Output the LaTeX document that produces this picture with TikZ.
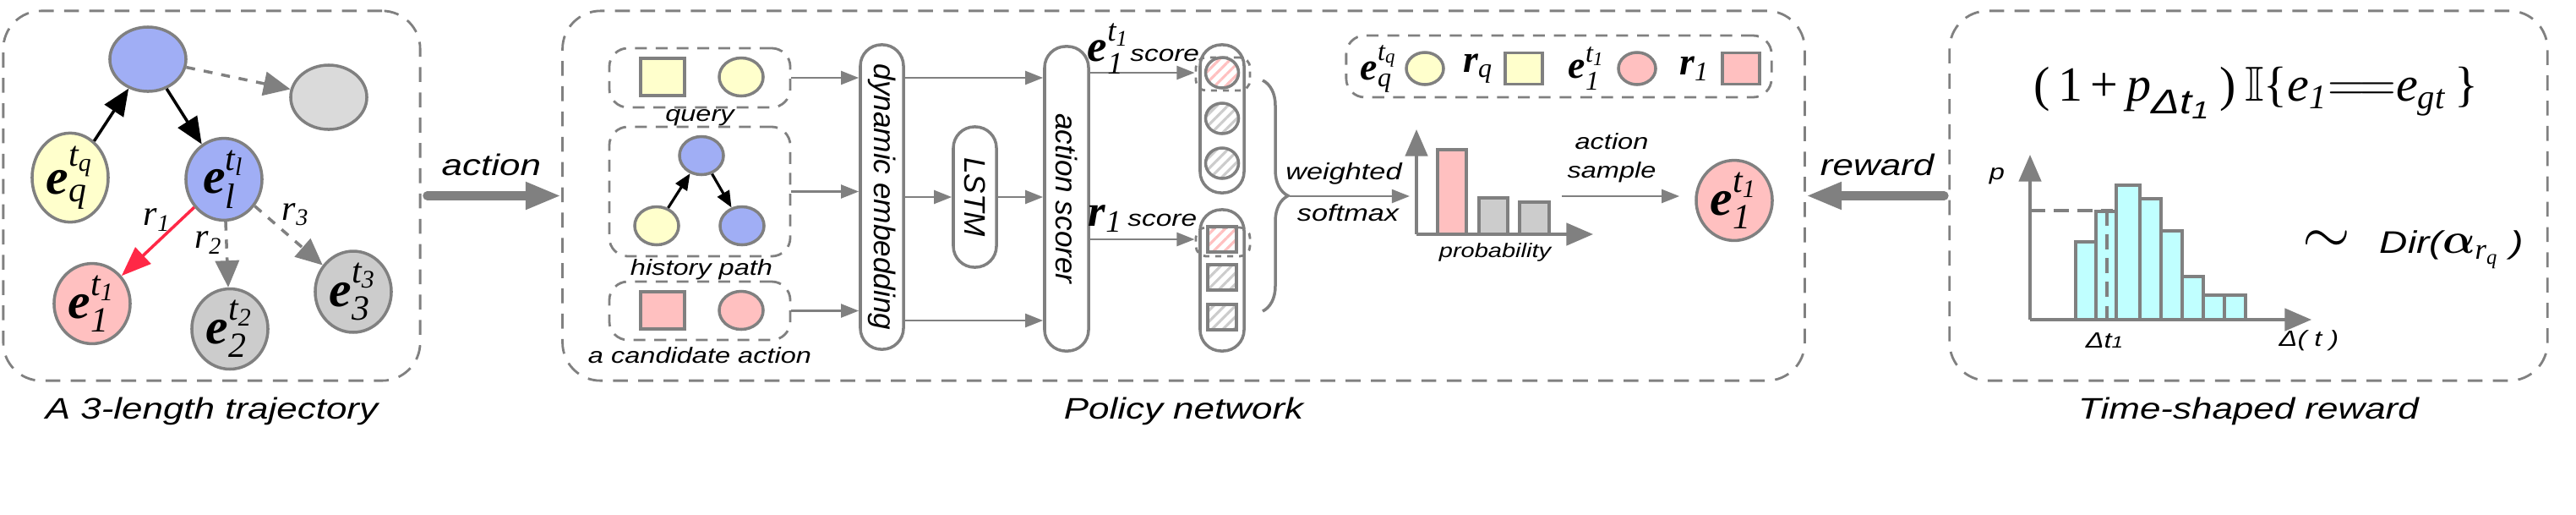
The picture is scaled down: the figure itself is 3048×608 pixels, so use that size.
\documentclass[tikz,border=0pt]{standalone}
\usepackage{amsmath,amssymb}
\usepackage{graphicx}
\usepackage{fontspec}
\setmainfont{Liberation Sans}[FakeStretch=1.25]
\newfontfamily\rotfont{Liberation Sans}
\newfontfamily\tms{Liberation Serif}
\usetikzlibrary{positioning,shapes.geometric,arrows.meta,patterns.meta,decorations.pathreplacing}

\definecolor{lgray}{RGB}{128,128,128}
\definecolor{nblue}{RGB}{160,174,245}
\definecolor{nyellow}{RGB}{255,255,204}
\definecolor{npink}{RGB}{255,192,192}
\definecolor{ngray}{RGB}{204,204,204}
\definecolor{nlgray}{RGB}{218,218,218}
\definecolor{nred}{RGB}{255,40,70}
\definecolor{ncyan}{RGB}{192,255,255}

\newcommand{\tv}[1]{\text{\tms\itshape #1}}
\newcommand{\tb}[1]{\text{\tms\bfseries\itshape #1}}
\newcommand{\ent}[2]{$\tb{e}_{\tv{#1}}^{\tv{t}_{\tv{#2}}}$}
\newcommand{\rel}[1]{$\tb{r}_{\tv{#1}}$}

\begin{document}
\begin{tikzpicture}[x=0.01cm, y=-0.01cm,
    panel/.style={draw=lgray, line width=0.8pt, dash pattern=on 5pt off 3.5pt, rounded corners=0.45cm, inner sep=0pt},
    grupo/.style={draw=lgray, line width=0.8pt, dash pattern=on 4pt off 3pt, rounded corners=0.22cm, inner sep=0pt},
    marca/.style={draw=lgray, line width=0.8pt, dash pattern=on 2pt off 2pt, rounded corners=0.12cm, minimum width=0.64cm, inner sep=0pt},
    ent/.style={ellipse, draw=lgray, line width=1pt, minimum width=0.9cm, minimum height=0.76cm, inner sep=0pt, font=\fontsize{17}{19}\selectfont},
    chico/.style={ellipse, draw=lgray, line width=1pt, minimum width=0.52cm, minimum height=0.45cm, inner sep=0pt},
    cuad/.style={rectangle, draw=lgray, line width=1pt, minimum width=0.52cm, minimum height=0.44cm, inner sep=0pt},
    modulo/.style={draw=lgray, line width=1pt, rounded corners=0.25cm, minimum width=0.51cm, inner sep=0pt, font=\rotfont\itshape\fontsize{10}{12}\selectfont},
    rayado/.style={draw=lgray, line width=1pt, inner sep=0pt, pattern={Lines[angle=45,distance=2.6pt,line width=0.9pt]}},
    flecha/.style={-{Triangle[length=6pt,width=4.5pt]}, line width=0.8pt, lgray},
    negra/.style={-{Triangle[length=9pt,width=7.5pt]}, line width=1pt, black},
    negrita/.style={-{Triangle[length=5.5pt,width=4.5pt]}, line width=0.9pt, black},
    punteada/.style={-{Triangle[length=9pt,width=8pt]}, line width=1pt, lgray, dash pattern=on 3pt off 3pt},
    gruesa/.style={-{Triangle[length=12pt,width=8.5pt]}, line width=3pt, lgray, line cap=round},
    eje/.style={-{Triangle[length=9pt,width=7.5pt]}, line width=1pt, lgray},
    barra/.style={draw=lgray, line width=1pt},
    titulo/.style={font=\itshape\fontsize{10}{12}\selectfont, inner sep=0pt, text=black},
    etiq/.style={font=\itshape\fontsize{7.4}{9.7}\selectfont, inner sep=0pt}]
    \useasboundingbox (0,0) rectangle (3048,608);

    % panels
    \node[panel, minimum width=4.93cm, minimum height=4.37cm] (pan1) at (250.5,231.5) {};
    \node[panel, minimum width=14.69cm, minimum height=4.37cm] (pan2) at (1400.5,231.5) {};
    \node[panel, minimum width=7.07cm, minimum height=4.37cm] (pan3) at (2660.5,231.5) {};
    \node[titulo, below=0.18cm of pan1] (cap1) {A 3-length trajectory};
    \node[titulo, below=0.18cm of pan2] (cap2) {Policy network};
    \node[titulo, below=0.18cm of pan3] (cap3) {Time-shaped reward};

    % trajectory
    \node[ent, fill=nblue] (top) at (175,70) {};
    \node[ent, fill=nlgray] (far) at (389,115) {};
    \node[ent, fill=nyellow] (eq) at (83,210) {\ent{q}{q}};
    \node[ent, fill=nblue] (el) at (265,212) {\ent{l}{l}};
    \node[ent, fill=npink] (e1) at (109,359) {\ent{1}{1}};
    \node[ent, fill=ngray] (e2) at (272,389) {\ent{2}{2}};
    \node[ent, fill=ngray] (e3) at (418,345) {\ent{3}{3}};
    \draw[negra] (eq) -- (top);
    \draw[negra] (top) -- (el);
    \draw[punteada] (top) -- (far);
    \draw[-{Triangle[length=10pt,width=7.5pt]}, line width=1pt, nred] (el) -- (e1);
    \draw[punteada] (el) -- (e2);
    \draw[punteada] (el) -- (e3);
    \node[font=\fontsize{12}{14}\selectfont] (lr1) at (186,260) {$\tv{r}_{\tv{1}}$};
    \node[font=\fontsize{12}{14}\selectfont] (lr2) at (247,287) {$\tv{r}_{\tv{2}}$};
    \node[font=\fontsize{12}{14}\selectfont] (lr3) at (350,254) {$\tv{r}_{\tv{3}}$};

    \draw[gruesa, shorten <=0.07cm] (pan1.east) -- node[titulo, above=0.18cm] (alab) {action} (pan2.west);
    \draw[gruesa, shorten <=0.05cm] (pan3.west) -- node[titulo, above=0.18cm] (rlab) {reward} (pan2.east);

    % inputs
    \node[grupo, minimum width=2.14cm, minimum height=0.70cm] (qbox) at (828,92) {};
    \node[cuad, fill=nyellow] (qrel) at (784,91) {};
    \node[chico, fill=nyellow] (qent) at (877,91) {};
    \node[etiq, anchor=north] (qlab) at (828,129) {query};
    \node[grupo, minimum width=2.14cm, minimum height=1.53cm] (hbox) at (828,226.5) {};
    \node[chico, fill=nblue] (htop) at (830,184) {};
    \node[chico, fill=nyellow] (hq) at (777,267) {};
    \node[chico, fill=nblue] (hl) at (878,267) {};
    \draw[negrita] (hq) -- (htop);
    \draw[negrita] (htop) -- (hl);
    \node[etiq, anchor=north] (hlab) at (830,306) {history path};
    \node[grupo, minimum width=2.14cm, minimum height=0.69cm] (cbox) at (828,367.5) {};
    \node[cuad, fill=npink] (crel) at (784,367) {};
    \node[chico, fill=npink] (cent) at (877,367) {};
    \node[etiq, anchor=north] (clab) at (828,410) {a candidate action};

    % modules
    \node[modulo, minimum height=3.6cm] (dyn) at (1043.5,233) {\rotatebox{-90}{dynamic embedding}};
    \node[modulo, minimum height=1.66cm] (lstm) at (1153.5,233) {\rotatebox{-90}{LSTM}};
    \node[modulo, minimum height=3.6cm, minimum width=0.52cm] (scorer) at (1262,235) {\rotatebox{-90}{action scorer}};
    \draw[flecha] (qbox.east) -- (qbox.east -| dyn.west);
    \draw[flecha] (hbox.east) -- (hbox.east -| dyn.west);
    \draw[flecha] (cbox.east) -- (cbox.east -| dyn.west);
    \draw[flecha] (dyn.east |- qbox.east) -- (scorer.west |- qbox.east);
    \draw[flecha] (dyn.east |- lstm.west) -- (lstm.west);
    \draw[flecha] (lstm.east) -- (lstm.east -| scorer.west);
    \draw[flecha] (dyn.east |- 0,379) -- (scorer.west |- 0,379);

    % scores
    \node[modulo, minimum height=1.75cm, minimum width=0.52cm] (col1) at (1446,140.5) {};
    \foreach \n/\y/\c in {1/86/npink, 2/140/ngray, 3/193/ngray}
        \node[rayado, ellipse, minimum width=0.39cm, minimum height=0.36cm, pattern color=\c] (c1\n) at (1446,\y) {};
    \node[marca, minimum height=0.39cm] (hl1) at (1447,87.5) {};
    \node[modulo, minimum height=1.67cm, minimum width=0.52cm] (col2) at (1446,331.5) {};
    \foreach \n/\y/\c in {1/283/npink, 2/328/ngray, 3/375/ngray}
        \node[rayado, minimum width=0.34cm, minimum height=0.30cm, pattern color=\c] (c2\n) at (1446,\y) {};
    \node[marca, minimum height=0.34cm] (hl2) at (1447,286) {};
    \draw[flecha] (scorer.east |- c11) -- (hl1.west |- c11);
    \draw[flecha] (scorer.east |- c21) -- (hl2.west |- c21);
    \node[anchor=base, inner sep=0pt] (sc1) at (1353,72) {{\fontsize{15}{17}\selectfont\ent{1}{1}}{\itshape\fontsize{7.6}{9}\selectfont score}};
    \node[anchor=base, inner sep=0pt] (sc2) at (1352,267) {{\fontsize{15}{17}\selectfont\rel{1}}\,{\itshape\fontsize{7.6}{9}\selectfont score}};

    % weighted softmax
    \coordinate (brtop) at (1494,95);
    \coordinate (brbot) at (1494,368);
    \coordinate (brtip) at (1526,232);
    \coordinate (sfend) at (1668,232);
    \draw[lgray, line width=1pt, decorate, decoration={brace, amplitude=0.3cm}] (brtop) -- (brbot);
    \draw[flecha] (brtip) -- (sfend);
    \node[etiq, font=\itshape\fontsize{7.8}{9}\selectfont] (wlab) at (1590,205) {weighted};
    \node[etiq, font=\itshape\fontsize{7.8}{9}\selectfont] (slab) at (1595,252) {softmax};

    % probability
    \coordinate (o1) at (1676,277);
    \draw[barra, fill=npink] (1701,277) rectangle (1735,177);
    \draw[barra, fill=ngray] (1750,277) rectangle (1784,234);
    \draw[barra, fill=ngray] (1798,277) rectangle (1833,239);
    \draw[eje] (o1) -- (1676,153);
    \draw[eje] (o1) -- (1885,277);
    \node[etiq, font=\itshape\fontsize{6.6}{8}\selectfont] (plab) at (1769,298) {probability};
    \node[etiq, align=center] (aslab) at (1907,187) {action\\sample};
    \node[ent, fill=npink] (res) at (2052,237) {\ent{1}{1}};
    \coordinate (smp) at (1848,232);
    \draw[flecha, shorten >=0.18cm] (smp) -- (smp -| res.west);

    % legend
    \node[grupo, minimum width=5.03cm, minimum height=0.73cm] (leg) at (1844.5,78.5) {};
    \node[font=\fontsize{13}{15}\selectfont, inner sep=0pt] (lt1) at (1632,81) {\ent{q}{q}};
    \node[chico, fill=nyellow, minimum width=0.44cm, minimum height=0.38cm] (lc1) at (1686,81) {};
    \node[font=\fontsize{13}{15}\selectfont, inner sep=0pt] (lt2) at (1749,81) {\rel{q}};
    \node[cuad, fill=nyellow, minimum width=0.44cm, minimum height=0.37cm] (lc2) at (1803,81) {};
    \node[font=\fontsize{13}{15}\selectfont, inner sep=0pt] (lt3) at (1878,81) {\ent{1}{1}};
    \node[chico, fill=npink, minimum width=0.44cm, minimum height=0.38cm] (lc3) at (1937,81) {};
    \node[font=\fontsize{13}{15}\selectfont, inner sep=0pt] (lt4) at (2005,81) {\rel{1}};
    \node[cuad, fill=npink, minimum width=0.44cm, minimum height=0.37cm] (lc4) at (2060,81) {};

    % time-shaped reward
    \node[font=\fontsize{16.5}{18}\selectfont, inner sep=0pt] (form) at (2669,110)
        {$\text{\tms(\,1\,+\,}\tv{p}_{\text{\itshape Δt}_{\text{\itshape 1}}}\text{\tms\,)}\,\mathbb{I}\text{\tms\{}\tv{e}_{\tv{1}}{=}\mkern-2mu{=}\tv{e}_{\tv{gt}}\text{\tms\,\}}$};
    \node[etiq] (plab2) at (2363,208) {p};
    \coordinate (o2) at (2402,378);
    \foreach \xa/\xb/\yt in {2456/2480/286, 2480/2504/250, 2504/2532/219, 2532/2557/235, 2557/2582/273, 2582/2607/327, 2607/2632/349, 2632/2657/349}
        \draw[barra, fill=ncyan] (\xa,378) rectangle (\xb,\yt);
    \draw[lgray, line width=1pt, dash pattern=on 5pt off 3pt] (2402,249) -- (2500,249);
    \draw[lgray, line width=1pt, dash pattern=on 5pt off 3pt] (2493,249) -- (2493,378);
    \draw[eje] (o2) -- (2402,183);
    \draw[eje] (o2) -- (2735,378);
    \node[etiq] (dtlab) at (2490,403) {Δt{\fontsize{5.5}{6}\selectfont 1}};
    \node[etiq] (dlab) at (2732,403) {Δ( t )};
    \node[inner sep=0pt] (dir) at (2855,295) {{\fontsize{22}{24}\selectfont$\sim$}\hspace{0.35cm}{\itshape\fontsize{10.5}{12}\selectfont Dir(}{\fontsize{14}{16}\selectfont$\boldsymbol{\alpha}_{\tv{r}_{\tv{q}}}$}{\itshape\fontsize{10.5}{12}\selectfont\ )}};
\end{tikzpicture}
\end{document}
